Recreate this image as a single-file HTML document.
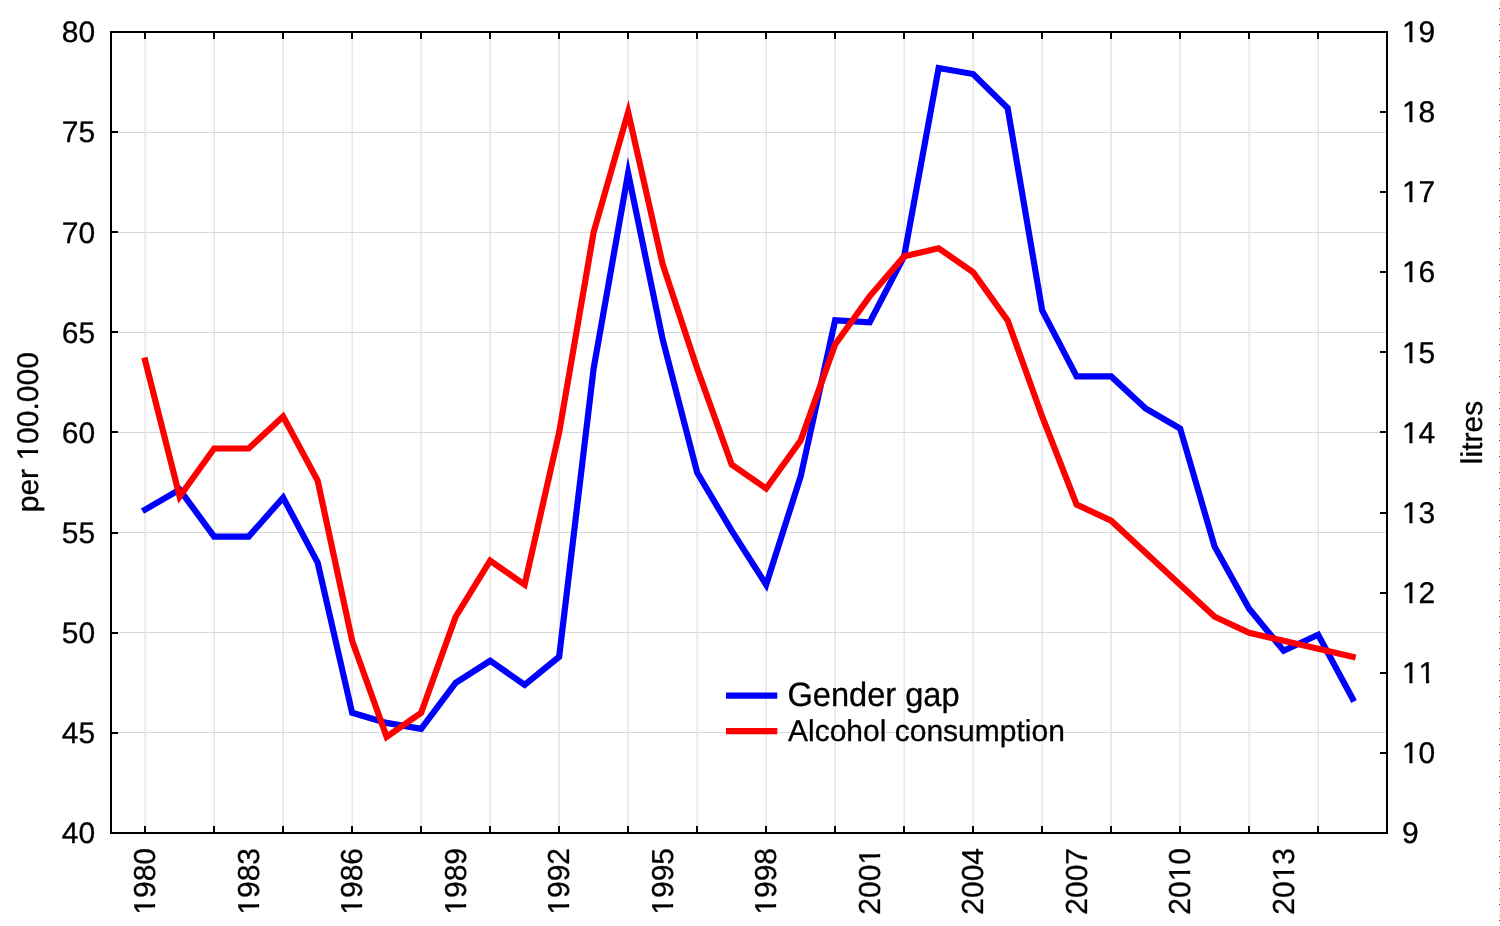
<!DOCTYPE html>
<html lang="en">
<head>
<meta charset="utf-8">
<title>Gender gap and alcohol consumption</title>
<style>
html,body{margin:0;padding:0;background:#fff;}
body{width:1500px;height:926px;overflow:hidden;}
svg{display:block;}
text{font-family:"Liberation Sans",sans-serif;font-size:30px;fill:#000;text-rendering:geometricPrecision;font-kerning:none;font-variant-ligatures:none;stroke:#000;stroke-width:0.3px;stroke-linejoin:round;}
</style>
</head>
<body>
<svg width="1500" height="926" viewBox="0 0 1500 926">
<rect x="0" y="0" width="1500" height="926" fill="#ffffff"/>
<g stroke="#d8d8d8" stroke-width="1" shape-rendering="crispEdges">
<line x1="112" x2="1386" y1="732.5" y2="732.5"/>
<line x1="112" x2="1386" y1="632.5" y2="632.5"/>
<line x1="112" x2="1386" y1="532.5" y2="532.5"/>
<line x1="112" x2="1386" y1="432.5" y2="432.5"/>
<line x1="112" x2="1386" y1="332.5" y2="332.5"/>
<line x1="112" x2="1386" y1="232.5" y2="232.5"/>
<line x1="112" x2="1386" y1="132.5" y2="132.5"/>
</g>
<g stroke="#d8d8d8" stroke-width="1">
<line x1="145.14" x2="145.14" y1="33" y2="832"/>
<line x1="214.14" x2="214.14" y1="33" y2="832"/>
<line x1="283.14" x2="283.14" y1="33" y2="832"/>
<line x1="352.14" x2="352.14" y1="33" y2="832"/>
<line x1="421.14" x2="421.14" y1="33" y2="832"/>
<line x1="490.14" x2="490.14" y1="33" y2="832"/>
<line x1="559.14" x2="559.14" y1="33" y2="832"/>
<line x1="628.14" x2="628.14" y1="33" y2="832"/>
<line x1="697.14" x2="697.14" y1="33" y2="832"/>
<line x1="766.14" x2="766.14" y1="33" y2="832"/>
<line x1="835.14" x2="835.14" y1="33" y2="832"/>
<line x1="904.14" x2="904.14" y1="33" y2="832"/>
<line x1="973.14" x2="973.14" y1="33" y2="832"/>
<line x1="1042.14" x2="1042.14" y1="33" y2="832"/>
<line x1="1111.14" x2="1111.14" y1="33" y2="832"/>
<line x1="1180.14" x2="1180.14" y1="33" y2="832"/>
<line x1="1249.14" x2="1249.14" y1="33" y2="832"/>
<line x1="1318.14" x2="1318.14" y1="33" y2="832"/>
</g>
<polyline points="145.14,509.60 179.64,489.57 214.14,536.63 248.64,536.63 283.14,497.58 317.64,562.66 352.14,712.85 386.64,722.86 421.14,728.87 455.64,682.81 490.14,660.78 524.64,684.82 559.14,656.78 593.64,368.42 628.14,173.18 662.64,339.38 697.14,472.55 731.64,530.62 766.14,584.69 800.64,476.56 835.14,320.36 869.64,322.36 904.14,256.28 938.64,68.04 973.14,74.05 1007.64,108.10 1042.14,310.35 1076.64,376.43 1111.14,376.43 1145.64,408.47 1180.14,428.49 1214.64,546.64 1249.14,608.72 1283.64,650.77 1318.14,634.75 1352.64,698.83" fill="none" stroke="#0000ff" stroke-width="6.2" stroke-linejoin="miter" stroke-miterlimit="10" stroke-linecap="square"/>
<polyline points="145.14,360.41 179.64,496.58 214.14,448.52 248.64,448.52 283.14,416.48 317.64,480.56 352.14,640.76 386.64,736.88 421.14,712.85 455.64,616.73 490.14,560.66 524.64,584.69 559.14,432.50 593.64,232.25 628.14,112.10 662.64,264.29 697.14,368.42 731.64,464.54 766.14,488.57 800.64,440.51 835.14,344.39 869.64,296.33 904.14,256.28 938.64,248.27 973.14,272.30 1007.64,320.36 1042.14,416.48 1076.64,504.59 1111.14,520.61 1145.64,552.65 1180.14,584.69 1214.64,616.73 1249.14,632.75 1283.64,640.76 1318.14,648.77 1352.64,656.78" fill="none" stroke="#ff0000" stroke-width="6.2" stroke-linejoin="miter" stroke-miterlimit="10" stroke-linecap="square"/>
<g stroke="#000" stroke-width="2" fill="none" shape-rendering="crispEdges">
<rect x="111" y="32" width="1276" height="801"/>
<line x1="112" x2="118" y1="733" y2="733"/>
<line x1="112" x2="118" y1="633" y2="633"/>
<line x1="112" x2="118" y1="533" y2="533"/>
<line x1="112" x2="118" y1="432" y2="432"/>
<line x1="112" x2="118" y1="332" y2="332"/>
<line x1="112" x2="118" y1="232" y2="232"/>
<line x1="112" x2="118" y1="132" y2="132"/>
<line x1="1380" x2="1386" y1="753" y2="753"/>
<line x1="1380" x2="1386" y1="673" y2="673"/>
<line x1="1380" x2="1386" y1="593" y2="593"/>
<line x1="1380" x2="1386" y1="513" y2="513"/>
<line x1="1380" x2="1386" y1="432" y2="432"/>
<line x1="1380" x2="1386" y1="352" y2="352"/>
<line x1="1380" x2="1386" y1="272" y2="272"/>
<line x1="1380" x2="1386" y1="192" y2="192"/>
<line x1="1380" x2="1386" y1="112" y2="112"/>
<line x1="145" x2="145" y1="33" y2="39"/>
<line x1="145" x2="145" y1="826" y2="832"/>
<line x1="214" x2="214" y1="33" y2="39"/>
<line x1="214" x2="214" y1="826" y2="832"/>
<line x1="283" x2="283" y1="33" y2="39"/>
<line x1="283" x2="283" y1="826" y2="832"/>
<line x1="352" x2="352" y1="33" y2="39"/>
<line x1="352" x2="352" y1="826" y2="832"/>
<line x1="421" x2="421" y1="33" y2="39"/>
<line x1="421" x2="421" y1="826" y2="832"/>
<line x1="490" x2="490" y1="33" y2="39"/>
<line x1="490" x2="490" y1="826" y2="832"/>
<line x1="559" x2="559" y1="33" y2="39"/>
<line x1="559" x2="559" y1="826" y2="832"/>
<line x1="628" x2="628" y1="33" y2="39"/>
<line x1="628" x2="628" y1="826" y2="832"/>
<line x1="697" x2="697" y1="33" y2="39"/>
<line x1="697" x2="697" y1="826" y2="832"/>
<line x1="766" x2="766" y1="33" y2="39"/>
<line x1="766" x2="766" y1="826" y2="832"/>
<line x1="835" x2="835" y1="33" y2="39"/>
<line x1="835" x2="835" y1="826" y2="832"/>
<line x1="904" x2="904" y1="33" y2="39"/>
<line x1="904" x2="904" y1="826" y2="832"/>
<line x1="973" x2="973" y1="33" y2="39"/>
<line x1="973" x2="973" y1="826" y2="832"/>
<line x1="1042" x2="1042" y1="33" y2="39"/>
<line x1="1042" x2="1042" y1="826" y2="832"/>
<line x1="1111" x2="1111" y1="33" y2="39"/>
<line x1="1111" x2="1111" y1="826" y2="832"/>
<line x1="1180" x2="1180" y1="33" y2="39"/>
<line x1="1180" x2="1180" y1="826" y2="832"/>
<line x1="1249" x2="1249" y1="33" y2="39"/>
<line x1="1249" x2="1249" y1="826" y2="832"/>
<line x1="1318" x2="1318" y1="33" y2="39"/>
<line x1="1318" x2="1318" y1="826" y2="832"/>
</g>
<g transform="translate(95.2,843.3) scale(1,0.99)"><text x="-33.37" y="0">40</text></g>
<g transform="translate(95.2,743.2) scale(1,0.99)"><text x="-33.37" y="0">45</text></g>
<g transform="translate(95.2,643.0) scale(1,0.99)"><text x="-33.37" y="0">50</text></g>
<g transform="translate(95.2,542.9) scale(1,0.99)"><text x="-33.37" y="0">55</text></g>
<g transform="translate(95.2,442.8) scale(1,0.99)"><text x="-33.37" y="0">60</text></g>
<g transform="translate(95.2,342.7) scale(1,0.99)"><text x="-33.37" y="0">65</text></g>
<g transform="translate(95.2,242.6) scale(1,0.99)"><text x="-33.37" y="0">70</text></g>
<g transform="translate(95.2,142.4) scale(1,0.99)"><text x="-33.37" y="0">75</text></g>
<g transform="translate(95.2,42.3) scale(1,0.99)"><text x="-33.37" y="0">80</text></g>
<g transform="translate(1401.9,843.1) scale(1,1.0)"><text x="0.00" y="0">9</text></g>
<g transform="translate(1401.9,763.0) scale(1,1.0)"><text x="0.00" y="0">10</text><rect x="1.54" y="-3.5" width="5.9" height="5.2" fill="#fff"/><rect x="10.57" y="-3.5" width="5.9" height="5.2" fill="#fff"/></g>
<g transform="translate(1401.9,682.9) scale(1,1.0)"><text x="0.00" y="0">11</text><rect x="1.54" y="-3.5" width="5.9" height="5.2" fill="#fff"/><rect x="10.57" y="-3.5" width="5.9" height="5.2" fill="#fff"/><rect x="18.22" y="-3.5" width="5.9" height="5.2" fill="#fff"/><rect x="27.25" y="-3.5" width="5.9" height="5.2" fill="#fff"/></g>
<g transform="translate(1401.9,602.8) scale(1,1.0)"><text x="0.00" y="0">12</text><rect x="1.54" y="-3.5" width="5.9" height="5.2" fill="#fff"/><rect x="10.57" y="-3.5" width="5.9" height="5.2" fill="#fff"/></g>
<g transform="translate(1401.9,522.7) scale(1,1.0)"><text x="0.00" y="0">13</text><rect x="1.54" y="-3.5" width="5.9" height="5.2" fill="#fff"/><rect x="10.57" y="-3.5" width="5.9" height="5.2" fill="#fff"/></g>
<g transform="translate(1401.9,442.6) scale(1,1.0)"><text x="0.00" y="0">14</text><rect x="1.54" y="-3.5" width="5.9" height="5.2" fill="#fff"/><rect x="10.57" y="-3.5" width="5.9" height="5.2" fill="#fff"/></g>
<g transform="translate(1401.9,362.5) scale(1,1.0)"><text x="0.00" y="0">15</text><rect x="1.54" y="-3.5" width="5.9" height="5.2" fill="#fff"/><rect x="10.57" y="-3.5" width="5.9" height="5.2" fill="#fff"/></g>
<g transform="translate(1401.9,282.4) scale(1,1.0)"><text x="0.00" y="0">16</text><rect x="1.54" y="-3.5" width="5.9" height="5.2" fill="#fff"/><rect x="10.57" y="-3.5" width="5.9" height="5.2" fill="#fff"/></g>
<g transform="translate(1401.9,202.3) scale(1,1.0)"><text x="0.00" y="0">17</text><rect x="1.54" y="-3.5" width="5.9" height="5.2" fill="#fff"/><rect x="10.57" y="-3.5" width="5.9" height="5.2" fill="#fff"/></g>
<g transform="translate(1401.9,122.2) scale(1,1.0)"><text x="0.00" y="0">18</text><rect x="1.54" y="-3.5" width="5.9" height="5.2" fill="#fff"/><rect x="10.57" y="-3.5" width="5.9" height="5.2" fill="#fff"/></g>
<g transform="translate(1401.9,42.1) scale(1,1.0)"><text x="0.00" y="0">19</text><rect x="1.54" y="-3.5" width="5.9" height="5.2" fill="#fff"/><rect x="10.57" y="-3.5" width="5.9" height="5.2" fill="#fff"/></g>
<g transform="translate(155.3,848) rotate(-90) scale(1,1.01)"><text x="-66.74" y="0">1980</text><rect x="-65.20" y="-3.5" width="5.9" height="5.2" fill="#fff"/><rect x="-56.17" y="-3.5" width="5.9" height="5.2" fill="#fff"/></g>
<g transform="translate(258.8,848) rotate(-90) scale(1,1.01)"><text x="-66.74" y="0">1983</text><rect x="-65.20" y="-3.5" width="5.9" height="5.2" fill="#fff"/><rect x="-56.17" y="-3.5" width="5.9" height="5.2" fill="#fff"/></g>
<g transform="translate(362.3,848) rotate(-90) scale(1,1.01)"><text x="-66.74" y="0">1986</text><rect x="-65.20" y="-3.5" width="5.9" height="5.2" fill="#fff"/><rect x="-56.17" y="-3.5" width="5.9" height="5.2" fill="#fff"/></g>
<g transform="translate(465.8,848) rotate(-90) scale(1,1.01)"><text x="-66.74" y="0">1989</text><rect x="-65.20" y="-3.5" width="5.9" height="5.2" fill="#fff"/><rect x="-56.17" y="-3.5" width="5.9" height="5.2" fill="#fff"/></g>
<g transform="translate(569.3,848) rotate(-90) scale(1,1.01)"><text x="-66.74" y="0">1992</text><rect x="-65.20" y="-3.5" width="5.9" height="5.2" fill="#fff"/><rect x="-56.17" y="-3.5" width="5.9" height="5.2" fill="#fff"/></g>
<g transform="translate(672.8,848) rotate(-90) scale(1,1.01)"><text x="-66.74" y="0">1995</text><rect x="-65.20" y="-3.5" width="5.9" height="5.2" fill="#fff"/><rect x="-56.17" y="-3.5" width="5.9" height="5.2" fill="#fff"/></g>
<g transform="translate(776.3,848) rotate(-90) scale(1,1.01)"><text x="-66.74" y="0">1998</text><rect x="-65.20" y="-3.5" width="5.9" height="5.2" fill="#fff"/><rect x="-56.17" y="-3.5" width="5.9" height="5.2" fill="#fff"/></g>
<g transform="translate(879.8,848) rotate(-90) scale(1,1.01)"><text x="-66.74" y="0">2001</text><rect x="-15.14" y="-3.5" width="5.9" height="5.2" fill="#fff"/><rect x="-6.11" y="-3.5" width="5.9" height="5.2" fill="#fff"/></g>
<g transform="translate(983.3,848) rotate(-90) scale(1,1.01)"><text x="-66.74" y="0">2004</text></g>
<g transform="translate(1086.8,848) rotate(-90) scale(1,1.01)"><text x="-66.74" y="0">2007</text></g>
<g transform="translate(1190.3,848) rotate(-90) scale(1,1.01)"><text x="-66.74" y="0">2010</text><rect x="-31.83" y="-3.5" width="5.9" height="5.2" fill="#fff"/><rect x="-22.80" y="-3.5" width="5.9" height="5.2" fill="#fff"/></g>
<g transform="translate(1293.8,848) rotate(-90) scale(1,1.01)"><text x="-66.74" y="0">2013</text><rect x="-31.83" y="-3.5" width="5.9" height="5.2" fill="#fff"/><rect x="-22.80" y="-3.5" width="5.9" height="5.2" fill="#fff"/></g>
<g transform="translate(38.0,432.2) rotate(-90) scale(1,1.0)"><text text-anchor="middle">per 100.000</text><rect x="-26.83" y="-3.5" width="5.9" height="5.2" fill="#fff"/><rect x="-17.80" y="-3.5" width="5.9" height="5.2" fill="#fff"/></g>
<text transform="translate(1481.6,432.5) rotate(-90)" text-anchor="middle">litres</text>
<line x1="726" x2="777.3" y1="695.7" y2="695.7" stroke="#0000ff" stroke-width="6.2"/>
<line x1="726" x2="777.3" y1="731.1" y2="731.1" stroke="#ff0000" stroke-width="6.2"/>
<text transform="translate(787.5,705.7) scale(1,1.035)" style="font-size:32.6px">Gender gap</text>
<text x="788" y="741.2">Alcohol consumption</text>
<g shape-rendering="crispEdges">
<rect x="1499" y="4" width="1" height="1" fill="#adb286"/><rect x="1499" y="8" width="1" height="1" fill="#cc0066"/><rect x="1499" y="20" width="1" height="1" fill="#adb286"/><rect x="1499" y="24" width="1" height="1" fill="#cc0066"/><rect x="1499" y="36" width="1" height="1" fill="#adb286"/><rect x="1499" y="40" width="1" height="1" fill="#cc0066"/><rect x="1499" y="52" width="1" height="1" fill="#adb286"/><rect x="1499" y="56" width="1" height="1" fill="#cc0066"/><rect x="1499" y="68" width="1" height="1" fill="#adb286"/><rect x="1499" y="72" width="1" height="1" fill="#cc0066"/><rect x="1499" y="84" width="1" height="1" fill="#adb286"/><rect x="1499" y="88" width="1" height="1" fill="#cc0066"/><rect x="1499" y="100" width="1" height="1" fill="#adb286"/><rect x="1499" y="104" width="1" height="1" fill="#cc0066"/><rect x="1499" y="116" width="1" height="1" fill="#adb286"/><rect x="1499" y="120" width="1" height="1" fill="#cc0066"/><rect x="1499" y="132" width="1" height="1" fill="#adb286"/><rect x="1499" y="136" width="1" height="1" fill="#cc0066"/><rect x="1499" y="148" width="1" height="1" fill="#adb286"/><rect x="1499" y="152" width="1" height="1" fill="#cc0066"/><rect x="1499" y="164" width="1" height="1" fill="#adb286"/><rect x="1499" y="168" width="1" height="1" fill="#cc0066"/><rect x="1499" y="180" width="1" height="1" fill="#adb286"/><rect x="1499" y="184" width="1" height="1" fill="#cc0066"/><rect x="1499" y="196" width="1" height="1" fill="#adb286"/><rect x="1499" y="200" width="1" height="1" fill="#cc0066"/><rect x="1499" y="212" width="1" height="1" fill="#adb286"/><rect x="1499" y="216" width="1" height="1" fill="#cc0066"/><rect x="1499" y="228" width="1" height="1" fill="#adb286"/><rect x="1499" y="232" width="1" height="1" fill="#cc0066"/><rect x="1499" y="244" width="1" height="1" fill="#adb286"/><rect x="1499" y="248" width="1" height="1" fill="#cc0066"/><rect x="1499" y="260" width="1" height="1" fill="#adb286"/><rect x="1499" y="264" width="1" height="1" fill="#cc0066"/><rect x="1499" y="276" width="1" height="1" fill="#adb286"/><rect x="1499" y="280" width="1" height="1" fill="#cc0066"/><rect x="1499" y="292" width="1" height="1" fill="#adb286"/><rect x="1499" y="296" width="1" height="1" fill="#cc0066"/><rect x="1499" y="308" width="1" height="1" fill="#adb286"/><rect x="1499" y="312" width="1" height="1" fill="#cc0066"/><rect x="1499" y="324" width="1" height="1" fill="#adb286"/><rect x="1499" y="328" width="1" height="1" fill="#cc0066"/><rect x="1499" y="340" width="1" height="1" fill="#adb286"/><rect x="1499" y="344" width="1" height="1" fill="#cc0066"/><rect x="1499" y="356" width="1" height="1" fill="#adb286"/><rect x="1499" y="360" width="1" height="1" fill="#cc0066"/><rect x="1499" y="372" width="1" height="1" fill="#adb286"/><rect x="1499" y="376" width="1" height="1" fill="#cc0066"/><rect x="1499" y="388" width="1" height="1" fill="#adb286"/><rect x="1499" y="392" width="1" height="1" fill="#cc0066"/><rect x="1499" y="404" width="1" height="1" fill="#adb286"/><rect x="1499" y="408" width="1" height="1" fill="#cc0066"/><rect x="1499" y="420" width="1" height="1" fill="#adb286"/><rect x="1499" y="424" width="1" height="1" fill="#cc0066"/><rect x="1499" y="436" width="1" height="1" fill="#adb286"/><rect x="1499" y="440" width="1" height="1" fill="#cc0066"/><rect x="1499" y="452" width="1" height="1" fill="#adb286"/><rect x="1499" y="456" width="1" height="1" fill="#cc0066"/><rect x="1499" y="468" width="1" height="1" fill="#adb286"/><rect x="1499" y="472" width="1" height="1" fill="#cc0066"/><rect x="1499" y="484" width="1" height="1" fill="#adb286"/><rect x="1499" y="488" width="1" height="1" fill="#cc0066"/><rect x="1499" y="500" width="1" height="1" fill="#adb286"/><rect x="1499" y="504" width="1" height="1" fill="#cc0066"/><rect x="1499" y="516" width="1" height="1" fill="#adb286"/><rect x="1499" y="520" width="1" height="1" fill="#cc0066"/><rect x="1499" y="532" width="1" height="1" fill="#adb286"/><rect x="1499" y="536" width="1" height="1" fill="#cc0066"/><rect x="1499" y="548" width="1" height="1" fill="#adb286"/><rect x="1499" y="552" width="1" height="1" fill="#cc0066"/><rect x="1499" y="564" width="1" height="1" fill="#adb286"/><rect x="1499" y="568" width="1" height="1" fill="#cc0066"/><rect x="1499" y="580" width="1" height="1" fill="#adb286"/><rect x="1499" y="584" width="1" height="1" fill="#cc0066"/><rect x="1499" y="596" width="1" height="1" fill="#adb286"/><rect x="1499" y="600" width="1" height="1" fill="#cc0066"/><rect x="1499" y="612" width="1" height="1" fill="#adb286"/><rect x="1499" y="616" width="1" height="1" fill="#cc0066"/><rect x="1499" y="628" width="1" height="1" fill="#adb286"/><rect x="1499" y="632" width="1" height="1" fill="#cc0066"/><rect x="1499" y="644" width="1" height="1" fill="#adb286"/><rect x="1499" y="648" width="1" height="1" fill="#cc0066"/><rect x="1499" y="660" width="1" height="1" fill="#adb286"/><rect x="1499" y="664" width="1" height="1" fill="#cc0066"/><rect x="1499" y="676" width="1" height="1" fill="#adb286"/><rect x="1499" y="680" width="1" height="1" fill="#cc0066"/><rect x="1499" y="692" width="1" height="1" fill="#adb286"/><rect x="1499" y="696" width="1" height="1" fill="#cc0066"/><rect x="1499" y="708" width="1" height="1" fill="#adb286"/><rect x="1499" y="712" width="1" height="1" fill="#cc0066"/><rect x="1499" y="724" width="1" height="1" fill="#adb286"/><rect x="1499" y="728" width="1" height="1" fill="#cc0066"/><rect x="1499" y="740" width="1" height="1" fill="#adb286"/><rect x="1499" y="744" width="1" height="1" fill="#cc0066"/><rect x="1499" y="756" width="1" height="1" fill="#adb286"/><rect x="1499" y="760" width="1" height="1" fill="#cc0066"/><rect x="1499" y="772" width="1" height="1" fill="#adb286"/><rect x="1499" y="776" width="1" height="1" fill="#cc0066"/><rect x="1499" y="788" width="1" height="1" fill="#adb286"/><rect x="1499" y="792" width="1" height="1" fill="#cc0066"/><rect x="1499" y="804" width="1" height="1" fill="#adb286"/><rect x="1499" y="808" width="1" height="1" fill="#cc0066"/><rect x="1499" y="820" width="1" height="1" fill="#adb286"/><rect x="1499" y="824" width="1" height="1" fill="#cc0066"/><rect x="1499" y="836" width="1" height="1" fill="#adb286"/><rect x="1499" y="840" width="1" height="1" fill="#cc0066"/><rect x="1499" y="852" width="1" height="1" fill="#adb286"/><rect x="1499" y="856" width="1" height="1" fill="#cc0066"/><rect x="1499" y="868" width="1" height="1" fill="#adb286"/><rect x="1499" y="872" width="1" height="1" fill="#cc0066"/><rect x="1499" y="884" width="1" height="1" fill="#adb286"/><rect x="1499" y="888" width="1" height="1" fill="#cc0066"/><rect x="1499" y="900" width="1" height="1" fill="#adb286"/><rect x="1499" y="904" width="1" height="1" fill="#cc0066"/><rect x="1499" y="916" width="1" height="1" fill="#adb286"/><rect x="1499" y="920" width="1" height="1" fill="#cc0066"/>
</g>
</svg>
</body>
</html>
